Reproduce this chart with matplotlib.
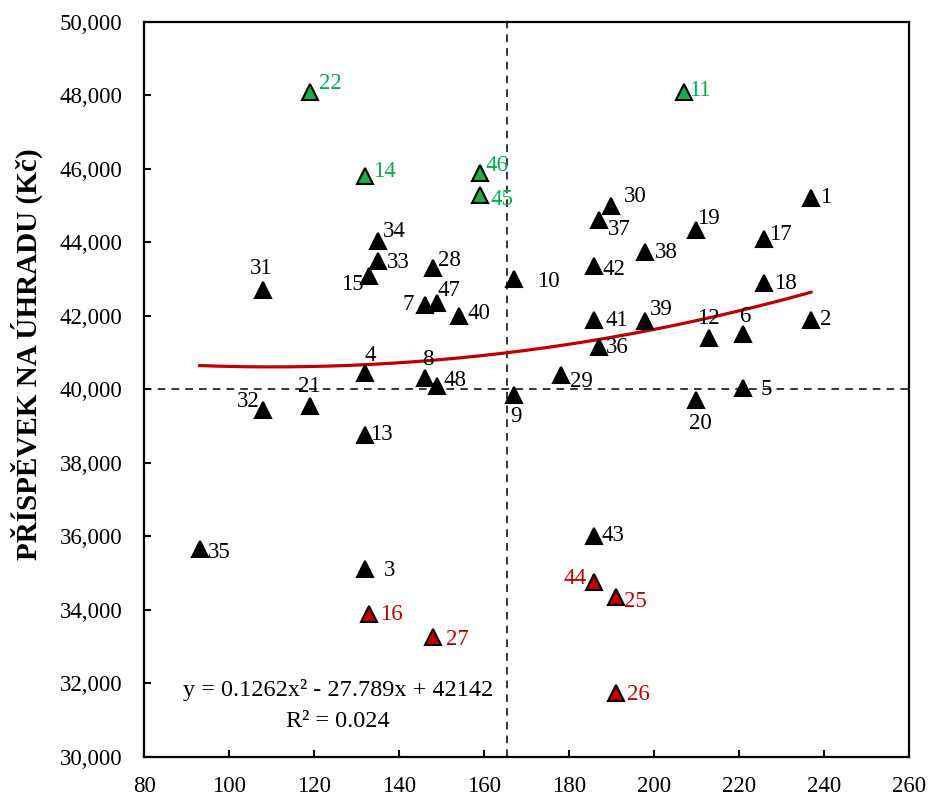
import numpy as np
import matplotlib.pyplot as plt
from matplotlib.ticker import FuncFormatter

# point numbers, x values, contribution values
ids = [22, 14, 46, 45, 34, 33, 15, 31, 28, 7, 47, 40, 10, 4, 8, 48, 9, 32, 21, 13,
       11, 30, 37, 19, 17, 1, 38, 42, 18, 41, 39, 12, 6, 2, 36, 29, 5, 20,
       35, 3, 16, 27, 43, 44, 25, 26]
x_vals = [119, 132, 159, 159, 135, 135, 133, 108, 148, 146, 149, 154, 167, 132, 146, 149, 167, 108, 119, 132,
          207, 190, 187, 210, 226, 237, 198, 186, 226, 186, 198, 213, 221, 237, 187, 178, 221, 210,
          93, 132, 133, 148, 186, 186, 191, 191]
y_vals = [48100, 45800, 45900, 45300, 44050, 43500, 43100, 42700, 43300, 42300, 42350, 42000, 43000,
          40450, 40300, 40100, 39850, 39450, 39550, 38750,
          48100, 45000, 44600, 44350, 44100, 45200, 43750, 43350, 42900, 41900, 41850, 41400, 41500,
          41900, 41150, 40400, 40050, 39700,
          35650, 35100, 33900, 33250, 36000, 34750, 34350, 31750]
good = [22, 14, 46, 45, 11]
bad = [16, 27, 44, 25, 26]

# trend coefficients as printed on the chart
coef = [0.1262, -27.789, 42142]
r2 = 0.024
x_split = 165.3
y_split = 40000

# label offsets in pixels (dx, dy with y pointing down)
offsets = {22: (20, -8), 14: (19, -5), 46: (17, -7), 45: (22, 5), 34: (16, -9), 33: (20, 2),
           15: (-17, 9), 31: (-2, -22), 28: (16, -8), 7: (-16, 0), 47: (12, -13), 40: (20, -2),
           10: (35, 2), 4: (5, -17), 8: (3, -19), 48: (18, -5), 9: (2, 22), 32: (-15, -8),
           21: (-1, -19), 13: (16, -1), 11: (16, -1), 30: (24, -9), 37: (21, 9), 19: (12, -11),
           17: (16, -4), 1: (15, -1), 38: (21, 1), 42: (19, 3), 18: (21, 1), 41: (22, 1),
           39: (16, -12), 12: (-1, -19), 6: (3, -18), 2: (15, 0), 36: (19, 0), 29: (21, 7),
           5: (23, 2), 20: (4, 23), 35: (20, 3), 3: (24, 1), 16: (22, 1), 27: (24, 2),
           43: (18, -1), 44: (-19, -4), 25: (20, 5), 26: (23, 2)}

GREEN = '#00b050'
RED = '#c00000'
plt.rcParams['font.family'] = ['Liberation Serif', 'DejaVu Serif']

fig = plt.figure(figsize=(9.31, 8.0), dpi=100)
ax = fig.add_axes([0.1552, 0.054, 0.8208, 0.9185])

xs = np.array(x_vals, dtype=float)
ys = np.array(y_vals, dtype=float)
for i, n in enumerate(ids):
    if n in good:
        fc, tc = '#1faa4f', GREEN
    elif n in bad:
        fc, tc = RED, RED
    else:
        fc, tc = 'black', 'black'
    ax.plot(xs[i], ys[i], marker='^', ms=12, mfc=fc, mec='black', mew=1.5, ls='none', zorder=4)
    dx, dy = offsets[n]
    ax.annotate(str(n), (xs[i], ys[i]), xytext=(dx, -dy), textcoords='offset pixels',
                ha='center', va='center', fontsize=16.5, color=tc, zorder=5)

xt = np.linspace(xs.min(), xs.max(), 200)
ax.plot(xt, np.polyval(coef, xt), color=RED, lw=2.3, zorder=3)

ax.axvline(x_split, color='black', lw=1.1, ls=(0, (5, 4)), zorder=2)
ax.axhline(y_split, color='black', lw=1.1, ls=(0, (5, 4)), zorder=2)

ax.text(125.5, 31818, 'y = %.4fx² - %.3fx + %d' % (coef[0], -coef[1], coef[2]),
        ha='center', va='center', fontsize=17.5)
ax.text(125.5, 30955, 'R² = %.3f' % r2, ha='center', va='center', fontsize=17.5)

ax.set_xlim(80, 260)
ax.set_ylim(30000, 50000)
ax.set_xticks(np.arange(80, 261, 20))
ax.set_yticks(np.arange(30000, 50001, 2000))
ax.yaxis.set_major_formatter(FuncFormatter(lambda v, p: '{:,.0f}'.format(v)))
ax.tick_params(direction='in', length=5, width=1.5, labelsize=16.5)
ax.tick_params(axis='y', pad=16)
ax.tick_params(axis='x', pad=14)
for s in ax.spines.values():
    s.set_linewidth(1.6)

ax.set_ylabel('PŘÍSPĚVEK NA ÚHRADU (Kč)', fontsize=21, fontweight='bold')
ax.yaxis.set_label_coords(-0.133, 0.548)

fig.savefig('out.png', dpi=100)
